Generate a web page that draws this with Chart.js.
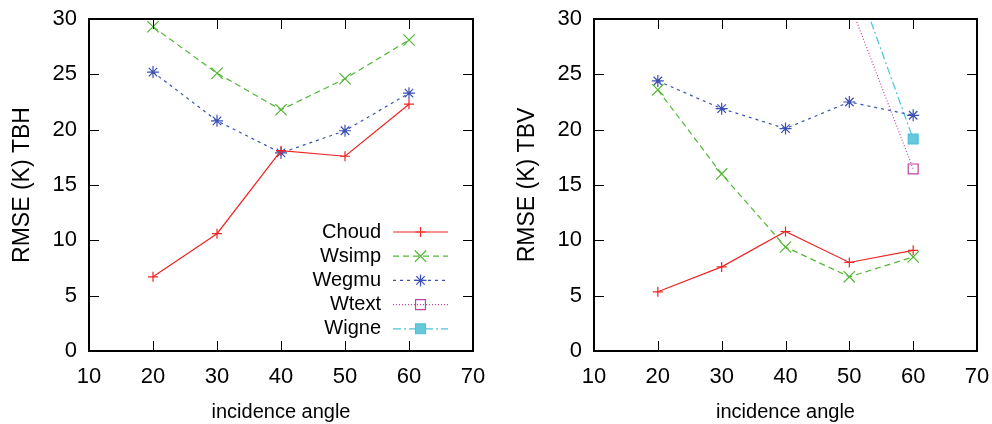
<!DOCTYPE html>
<html>
<head>
<meta charset="utf-8">
<script src="https://cdn.jsdelivr.net/npm/chart.js@4.4.1/dist/chart.umd.min.js"></script>
<style>
body { margin: 0; background: #fff; width: 992px; height: 424px; overflow: hidden; }
.panel { position: absolute; top: 0; width: 496px; height: 424px; }
</style>
</head>
<body>
<div class="panel" style="left:0"><canvas id="TBHChart" width="496" height="424"></canvas></div>
<div class="panel" style="left:496px"><canvas id="TBVChart" width="496" height="424"></canvas></div>
<script>
const angles = [20, 30, 40, 50, 60];
const seriesNames = ['Choud', 'Wsimp', 'Wegmu', 'Wtext', 'Wigne'];

// left panel, TBH
const choudTBH = [6.7, 10.6, 18.1, 17.6, 22.3];
const wsimpTBH = [29.3, 25.1, 21.8, 24.6, 28.1];
const wegmuTBH = [25.2, 20.8, 17.9, 19.9, 23.3];
const wtextTBH = [null, null, null, null, null];
const wigneTBH = [null, null, null, null, null];

// right panel, TBV
const choudTBV = [5.35, 7.6, 10.8, 8.0, 9.1];
const wsimpTBV = [23.6, 16.0, 9.4, 6.7, 8.5];
const wegmuTBV = [24.4, 21.9, 20.1, 22.5, 21.3];
const wtextTBV = [null, null, null, 31.5, 16.45];
const wigneTBV = [null, null, null, 35.2, 19.15];

const lineColors = ['#ee2424', '#4fb832', '#3a50b2', '#c044a6', '#4cc2dc'];
const fillColors = ['#ee2424', '#4fb832', '#3a50b2', 'rgba(0,0,0,0)', '#66c8da'];
const dashes = [[], [6, 4], [3, 4], [1, 2], [8, 3, 2, 3]];
const pointStyles = ['cross', 'crossRot', 'star', 'rect', 'rect'];
const pointSizes = [5, 8, 6, 7, 7];

const tickFont = {family: "'Liberation Sans Narrow', 'Liberation Sans', Arial, sans-serif", size: 22};

Chart.defaults.font.family = "'Liberation Sans', Arial, sans-serif";
Chart.defaults.font.size = 20;
Chart.defaults.color = '#000';

// gnuplot style frame with inward ticks on all four sides
const frameTicks = {
    id: 'frameTicks',
    afterDraw(chart) {
        const ctx = chart.ctx;
        const a = chart.chartArea;
        const xs = chart.scales.x;
        const ys = chart.scales.y;
        ctx.save();
        ctx.strokeStyle = '#000';
        ctx.lineWidth = 1;
        ctx.beginPath();
        xs.ticks.forEach(t => {
            const px = Math.round(xs.getPixelForValue(t.value)) + 0.5;
            ctx.moveTo(px, a.bottom); ctx.lineTo(px, a.bottom - 10);
            ctx.moveTo(px, a.top); ctx.lineTo(px, a.top + 10);
        });
        ys.ticks.forEach(t => {
            const py = Math.round(ys.getPixelForValue(t.value)) + 0.5;
            ctx.moveTo(a.left, py); ctx.lineTo(a.left + 10, py);
            ctx.moveTo(a.right, py); ctx.lineTo(a.right - 10, py);
        });
        ctx.stroke();
        ctx.lineWidth = 2;
        ctx.strokeRect(a.left, a.top, a.right - a.left, a.bottom - a.top);
        ctx.restore();
    }
};

// key drawn gnuplot style: label, then sample line with marker
const keyBox = {
    id: 'keyBox',
    afterDraw(chart) {
        const ctx = chart.ctx;
        chart.data.datasets.forEach((ds, i) => {
            const y = 232 + i * 24.2;
            ctx.save();
            ctx.font = "20px 'Liberation Sans', Arial, sans-serif";
            ctx.fillStyle = '#000';
            ctx.textAlign = 'right';
            ctx.textBaseline = 'middle';
            ctx.fillText(ds.label, 381, y);
            ctx.strokeStyle = ds.borderColor;
            ctx.lineWidth = ds.borderWidth;
            ctx.setLineDash(ds.borderDash);
            ctx.beginPath();
            ctx.moveTo(393, y);
            ctx.lineTo(448, y);
            ctx.stroke();
            ctx.setLineDash([]);
            ctx.fillStyle = ds.pointBackgroundColor;
            ctx.lineWidth = ds.pointBorderWidth;
            Chart.helpers.drawPoint(ctx, {
                pointStyle: ds.pointStyle,
                radius: ds.pointRadius,
                borderWidth: ds.pointBorderWidth,
                rotation: 0
            }, 420.5, y);
            ctx.restore();
        });
    }
};

function makeChart(id, yTitle, values, yWidth, rightPad, titlePad, withKey) {
    const datasets = seriesNames.map((name, i) => ({
        label: name,
        data: angles.map((a, j) => ({x: a, y: values[i][j]})),
        borderColor: lineColors[i],
        borderWidth: 1.2,
        borderDash: dashes[i],
        pointStyle: pointStyles[i],
        pointRadius: pointSizes[i],
        pointBorderColor: lineColors[i],
        pointBackgroundColor: fillColors[i],
        pointBorderWidth: 1.2,
        clip: 0,
        tension: 0
    }));
    return new Chart(document.getElementById(id), {
        type: 'line',
        data: {datasets: datasets},
        options: {
            responsive: false,
            animation: false,
            events: [],
            layout: {padding: {top: 19, right: rightPad, left: 0, bottom: 0}},
            plugins: {legend: {display: false}, tooltip: {enabled: false}},
            scales: {
                x: {
                    type: 'linear',
                    min: 10, max: 70,
                    ticks: {stepSize: 10, padding: 13, font: tickFont},
                    grid: {display: false, drawTicks: false},
                    border: {display: false},
                    title: {display: true, text: 'incidence angle', font: {size: 20}, padding: {top: 0, bottom: 0}},
                    afterFit(scale) {
                        scale.height = 73;
                        scale.paddingLeft = 0;
                        scale.paddingRight = 0;
                    }
                },
                y: {
                    min: 0, max: 30,
                    ticks: {stepSize: 5, padding: 12, font: tickFont},
                    grid: {display: false, drawTicks: false},
                    border: {display: false},
                    title: {display: true, text: yTitle, font: {size: 23}, padding: {top: titlePad, bottom: 0}},
                    afterFit(scale) {
                        scale.width = yWidth;
                        scale.paddingTop = 0;
                        scale.paddingBottom = 0;
                    }
                }
            }
        },
        plugins: withKey ? [frameTicks, keyBox] : [frameTicks]
    });
}

makeChart('TBHChart', 'RMSE (K) TBH',
    [choudTBH, wsimpTBH, wegmuTBH, wtextTBH, wigneTBH], 89, 23, 9, true);
makeChart('TBVChart', 'RMSE (K) TBV',
    [choudTBV, wsimpTBV, wegmuTBV, wtextTBV, wigneTBV], 98, 15, 18, false);
</script>
</body>
</html>
